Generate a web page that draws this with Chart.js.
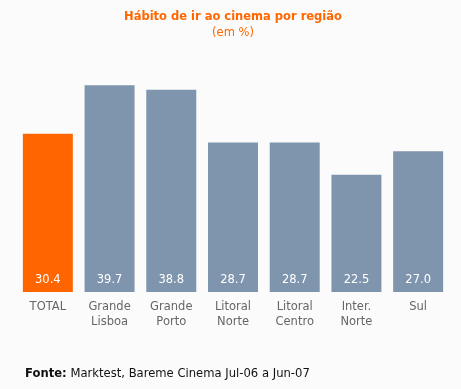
<!DOCTYPE html>
<html>
<head>
<meta charset="utf-8">
<script src="https://cdn.jsdelivr.net/npm/chart.js@4"></script>
<style>
  html, body { margin: 0; padding: 0; background: #fbfbfb; }
  #wrap { position: relative; width: 461px; height: 389px; }
  #fonte { position: absolute; left: 25px; top: 366px; font: 11.6px "DejaVu Sans", Verdana, sans-serif; color: #111; }
</style>
</head>
<body>
<div id="wrap">
  <canvas id="myChart" width="461" height="389"></canvas>
  <div id="fonte"><b>Fonte:</b> Marktest, Bareme Cinema Jul-06 a Jun-07</div>
</div>
<script>
// categorias e valores (em %)
const regioes = [['TOTAL'], ['Grande', 'Lisboa'], ['Grande', 'Porto'], ['Litoral', 'Norte'], ['Litoral', 'Centro'], ['Inter.', 'Norte'], ['Sul']]
const valores = [30.4, 39.7, 38.8, 28.7, 28.7, 22.5, 27.0]
const cores = ['#ff6600', '#7f95ad', '#7f95ad', '#7f95ad', '#7f95ad', '#7f95ad', '#7f95ad']

const font = '"DejaVu Sans", Verdana, sans-serif'

// escreve o valor dentro de cada barra, junto à base
const valueLabels = {
    id: 'valueLabels',
    afterDatasetsDraw(chart) {
        const ctx = chart.ctx
        const meta = chart.getDatasetMeta(0)
        const y0 = chart.scales.y.getPixelForValue(0)
        ctx.save()
        ctx.fillStyle = '#ffffff'
        ctx.font = '11.5px ' + font
        ctx.textAlign = 'center'
        ctx.textBaseline = 'middle'
        meta.data.forEach((bar, i) => {
            ctx.fillText(valores[i].toFixed(1), bar.x, y0 - 12)
        })
        ctx.restore()
    }
}

let ctx = document.getElementById('myChart').getContext('2d')
var chart = new Chart(ctx, {
    type: 'bar',
    data: {
        labels: regioes,
        datasets: [{
            data: valores,
            backgroundColor: cores,
            barPercentage: 0.81,
            categoryPercentage: 1
        }]
    },
    options: {
        responsive: false,
        animation: false,
        layout: {
            padding: {left: 17, right: 12, top: 0, bottom: 53}
        },
        scales: {
            x: {
                grid: {display: false, drawTicks: false},
                border: {display: false},
                ticks: {
                    color: '#666',
                    padding: 7,
                    font: {family: font, size: 11.5, lineHeight: 1.3}
                }
            },
            y: {
                display: false,
                min: 0,
                max: 40
            }
        },
        plugins: {
            legend: {display: false},
            tooltip: {enabled: false},
            title: {
                display: true,
                text: 'Hábito de ir ao cinema por região',
                color: '#ff6600',
                font: {family: font, size: 11.5, weight: 'bold', lineHeight: 1.2},
                padding: {top: 10, bottom: 2}
            },
            subtitle: {
                display: true,
                text: '(em %)',
                color: '#ff6600',
                font: {family: font, size: 11.5, lineHeight: 1.2},
                padding: {top: 0, bottom: 44}
            }
        }
    },
    plugins: [valueLabels]
});
</script>
</body>
</html>
